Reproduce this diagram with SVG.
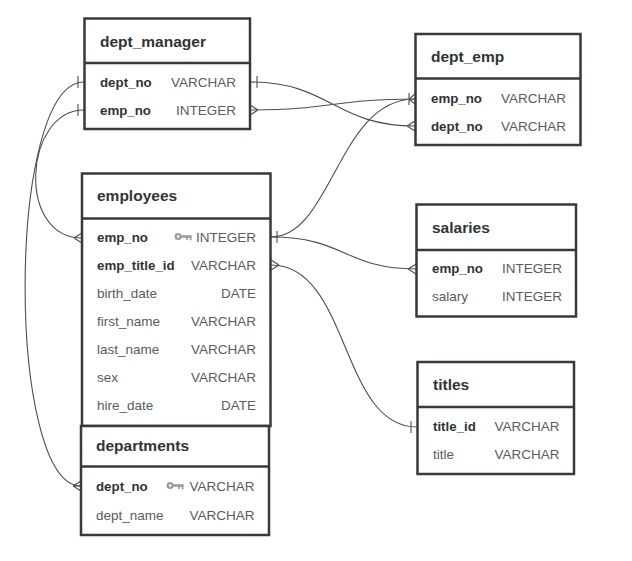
<svg xmlns="http://www.w3.org/2000/svg" xmlns:xlink="http://www.w3.org/1999/xlink" width="632" height="561" viewBox="0 0 632 561">
  <style>
    .box { fill: #ffffff; stroke: #343a40; stroke-width: 2.5; }
    .div { stroke: #343a40; stroke-width: 2.5; }
    .title { font-family: "Liberation Sans", Arial, sans-serif; font-size: 15.5px; font-weight: bold; fill: #2f3438; }
    .key { font-family: "Liberation Sans", Arial, sans-serif; font-size: 13.3px; font-weight: bold; fill: #2f3438; }
    .fld { font-family: "Liberation Sans", Arial, sans-serif; font-size: 13.5px; fill: #575c60; }
    .typ { font-family: "Liberation Sans", Arial, sans-serif; font-size: 13.5px; fill: #575c60; text-anchor: end; }
    .rel { fill: none; stroke: #4a4f53; stroke-width: 1.1; }
  </style>
  <defs>
    <!-- primary key glyph -->
    <g id="pk">
      <circle cx="3.6" cy="0" r="3.6" fill="#9a9da0"/>
      <circle cx="3.6" cy="0" r="1.2" fill="#ffffff"/>
      <rect x="6.5" y="-1.3" width="10.5" height="2.6" fill="#9a9da0"/>
      <rect x="11.5" y="0" width="1.8" height="3.4" fill="#9a9da0"/>
      <rect x="15.2" y="0" width="1.8" height="3.8" fill="#9a9da0"/>
    </g>
  </defs>
  <rect width="632" height="561" fill="#ffffff"/>

  <!-- relationships -->
  <g id="connectors">
    <!-- dept_manager.dept_no -> departments.dept_no -->
    <path class="rel" d="M84,82 C6,82 6,486 81,486"/>
    <path class="rel" d="M78,76 V88"/>
    <path class="rel" d="M73,486 L81,481 M73,486 L81,491 M73,486 H81"/>
    <!-- dept_manager.emp_no -> employees.emp_no -->
    <path class="rel" d="M84,110 C24,110 16,238 82,238"/>
    <path class="rel" d="M78,104 V116"/>
    <path class="rel" d="M74,238 L82,233 M74,238 L82,243"/>
    <!-- dept_manager.dept_no -> dept_emp.dept_no -->
    <path class="rel" d="M250,82 C330,82 335,126 415,126"/>
    <path class="rel" d="M257,76 V88"/>
    <path class="rel" d="M407,126 L415,121 M407,126 L415,131"/>
    <!-- dept_manager.emp_no -> dept_emp.emp_no -->
    <path class="rel" d="M250,110 C330,110 335,99 415,99"/>
    <path class="rel" d="M258,110 L250,105 M258,110 L250,115"/>
    <path class="rel" d="M409,93 V105 M409,99 L415,94 M409,99 L415,104"/>
    <!-- employees.emp_no -> dept_emp.emp_no -->
    <path class="rel" d="M271,237 C332,237 338,99 415,99"/>
    <!-- employees.emp_no -> salaries.emp_no -->
    <path class="rel" d="M271,237 C345,237 345,269 416,269"/>
    <path class="rel" d="M277,231 V243"/>
    <path class="rel" d="M408,269 L416,264 M408,269 L416,274"/>
    <!-- employees.emp_title_id -> titles.title_id -->
    <path class="rel" d="M271,265 C350,265 340,427 417,427"/>
    <path class="rel" d="M279,265 L271,260 M279,265 L271,270"/>
    <path class="rel" d="M411,421 V433"/>
  </g>

  <g id="dept_manager">
    <rect class="box" x="84.5" y="18.5" width="165.5" height="110.5"/>
    <line class="div" x1="84.5" y1="63" x2="250" y2="63"/>
    <text class="title" x="100" y="47">dept_manager</text>
    <text class="key" x="100" y="86.5">dept_no</text>
    <text class="typ" x="236" y="86.5">VARCHAR</text>
    <text class="key" x="100" y="114.5">emp_no</text>
    <text class="typ" x="236" y="114.5">INTEGER</text>
  </g>

  <g id="dept_emp">
    <rect class="box" x="415.5" y="34" width="165" height="111"/>
    <line class="div" x1="415.5" y1="78.5" x2="580.5" y2="78.5"/>
    <text class="title" x="431" y="62">dept_emp</text>
    <text class="key" x="431" y="103">emp_no</text>
    <text class="typ" x="566" y="103">VARCHAR</text>
    <text class="key" x="431" y="130.5">dept_no</text>
    <text class="typ" x="566" y="130.5">VARCHAR</text>
  </g>

  <g id="employees">
    <rect class="box" x="82" y="173.5" width="188.5" height="252.5"/>
    <line class="div" x1="82" y1="218.5" x2="270.5" y2="218.5"/>
    <text class="title" x="97" y="201">employees</text>
    <text class="key" x="97" y="242">emp_no</text>
    <use xlink:href="#pk" x="174.5" y="236.5"/>
    <text class="typ" x="256" y="242">INTEGER</text>
    <text class="key" x="97" y="270">emp_title_id</text>
    <text class="typ" x="256" y="270">VARCHAR</text>
    <text class="fld" x="97" y="298">birth_date</text>
    <text class="typ" x="256" y="298">DATE</text>
    <text class="fld" x="97" y="326">first_name</text>
    <text class="typ" x="256" y="326">VARCHAR</text>
    <text class="fld" x="97" y="354">last_name</text>
    <text class="typ" x="256" y="354">VARCHAR</text>
    <text class="fld" x="97" y="382">sex</text>
    <text class="typ" x="256" y="382">VARCHAR</text>
    <text class="fld" x="97" y="410">hire_date</text>
    <text class="typ" x="256" y="410">DATE</text>
  </g>

  <g id="departments">
    <rect class="box" x="81" y="426" width="188" height="109"/>
    <line class="div" x1="81" y1="466.5" x2="269" y2="466.5"/>
    <text class="title" x="96" y="451">departments</text>
    <text class="key" x="96" y="490.5">dept_no</text>
    <use xlink:href="#pk" x="166.5" y="485.5"/>
    <text class="typ" x="254.5" y="490.5">VARCHAR</text>
    <text class="fld" x="96" y="519.5">dept_name</text>
    <text class="typ" x="254.5" y="519.5">VARCHAR</text>
  </g>

  <g id="salaries">
    <rect class="box" x="416.5" y="204.5" width="159.5" height="112"/>
    <line class="div" x1="416.5" y1="250" x2="576" y2="250"/>
    <text class="title" x="432" y="233">salaries</text>
    <text class="key" x="432" y="273">emp_no</text>
    <text class="typ" x="562" y="273">INTEGER</text>
    <text class="fld" x="432" y="301">salary</text>
    <text class="typ" x="562" y="301">INTEGER</text>
  </g>

  <g id="titles">
    <rect class="box" x="417.5" y="362" width="156.5" height="112"/>
    <line class="div" x1="417.5" y1="407" x2="574" y2="407"/>
    <text class="title" x="433" y="390">titles</text>
    <text class="key" x="433" y="431">title_id</text>
    <text class="typ" x="559.5" y="431">VARCHAR</text>
    <text class="fld" x="433" y="458.5">title</text>
    <text class="typ" x="559.5" y="458.5">VARCHAR</text>
  </g>
</svg>
